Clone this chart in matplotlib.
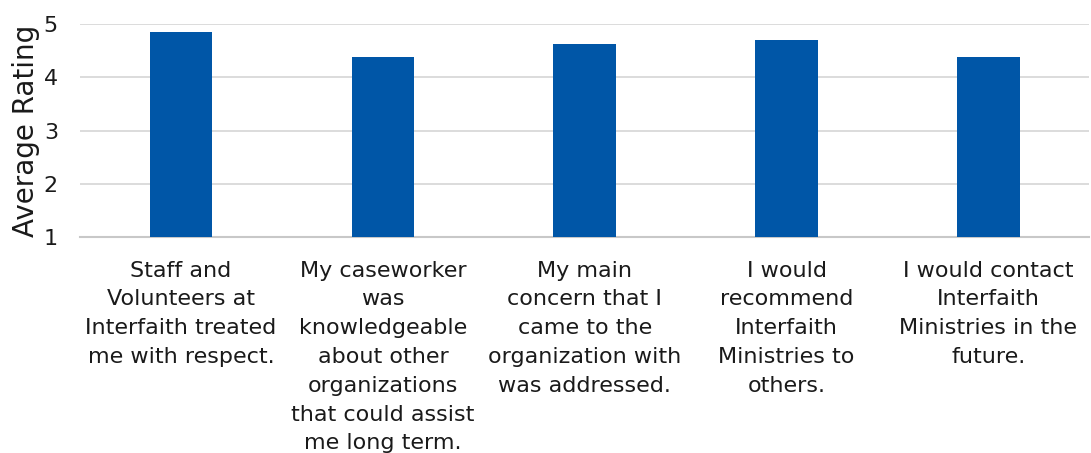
import matplotlib
matplotlib.use("Agg")
import matplotlib.pyplot as plt

categories = [
    "Staff and\nVolunteers at\nInterfaith treated\nme with respect.",
    "My caseworker\nwas\nknowledgeable\nabout other\norganizations\nthat could assist\nme long term.",
    "My main\nconcern that I\ncame to the\norganization with\nwas addressed.",
    "I would\nrecommend\nInterfaith\nMinistries to\nothers.",
    "I would contact\nInterfaith\nMinistries in the\nfuture.",
]
ratings = [4.85, 4.38, 4.62, 4.70, 4.38]
yticks = [1, 2, 3, 4, 5]

plt.rcParams['font.family'] = ['DejaVu Sans']

fig = plt.figure(figsize=(10.91, 4.53), dpi=100)
ax = fig.add_axes([0.0735, 0.4768, 0.925, 0.4702])

x = range(len(categories))
ax.bar(x, [r - 1 for r in ratings], bottom=1, width=0.31, color='#0056A7', zorder=3)

ax.set_ylim(1, 5)
ax.set_xlim(-0.5, len(categories) - 0.5)
ax.set_yticks(yticks)
ax.set_yticklabels([str(t) for t in yticks], fontsize=16, color='#1a1a1a')
ax.set_xticks(list(x))
ax.set_xticklabels(categories, fontsize=16, color='#1a1a1a', linespacing=1.55, va='top')
ax.tick_params(axis='both', length=0)
ax.tick_params(axis='x', pad=17)
ax.tick_params(axis='y', pad=16)

ax.set_ylabel("Average Rating", fontsize=20, color='#1a1a1a', labelpad=3)

ax.grid(axis='y', color='#D9D9D9', linewidth=1.3, zorder=0)
for side in ['top', 'right', 'left']:
    ax.spines[side].set_visible(False)
ax.spines['bottom'].set_color('#C8C8C8')
ax.spines['bottom'].set_linewidth(1.5)

fig.savefig("out.png", dpi=100)
